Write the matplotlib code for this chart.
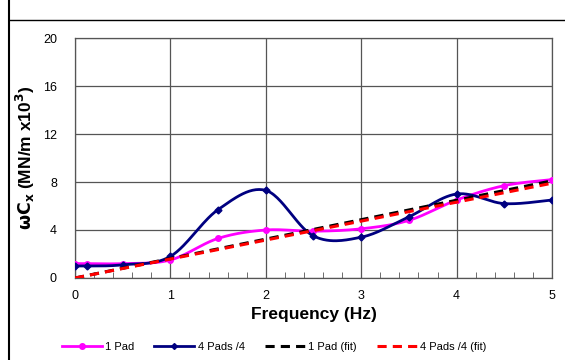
import numpy as np
import matplotlib.pyplot as plt
from matplotlib.lines import Line2D

plt.rcParams['font.family'] = ['Liberation Sans', 'DejaVu Sans']

freq = [0, 0.125, 0.5, 1.0, 1.5, 2.0, 2.5, 3.0, 3.5, 4.0, 4.5, 5.0]
one_pad = [1.2, 1.2, 1.2, 1.5, 3.3, 4.0, 3.9, 4.1, 4.8, 6.5, 7.7, 8.2]
four_pads = [1.0, 1.0, 1.1, 1.8, 5.7, 7.3, 3.5, 3.4, 5.1, 7.0, 6.2, 6.5]
fit_x = [0, 5]
fit_one = [0, 8.1]
fit_four = [0, 7.9]


def smooth(x, y, n=30):
    # excel-like smoothed line (catmull-rom via bezier)
    x = np.asarray(x, float)
    y = np.asarray(y, float)
    px = np.concatenate([[x[0]], x, [x[-1]]])
    py = np.concatenate([[y[0]], y, [y[-1]]])
    xs, ys = [], []
    t = np.linspace(0, 1, n)
    for i in range(1, len(px) - 2):
        p0 = np.array([px[i], py[i]])
        p3 = np.array([px[i + 1], py[i + 1]])
        p1 = p0 + (np.array([px[i + 1], py[i + 1]]) - np.array([px[i - 1], py[i - 1]])) / 6
        p2 = p3 - (np.array([px[i + 2], py[i + 2]]) - np.array([px[i], py[i]])) / 6
        b = ((1 - t) ** 3)[:, None] * p0 + (3 * (1 - t) ** 2 * t)[:, None] * p1 \
            + (3 * (1 - t) * t ** 2)[:, None] * p2 + (t ** 3)[:, None] * p3
        xs.extend(b[:, 0])
        ys.extend(b[:, 1])
    return xs, ys


fig = plt.figure(figsize=(5.65, 3.6), dpi=100)
ax = fig.add_axes([0.1327, 0.2278, 0.8443, 0.6666])

pink = '#ff00ff'
navy = '#000080'

sx, sy = smooth(freq, one_pad)
ax.plot(sx, sy, color=pink, lw=2, zorder=3)
ax.plot(freq, one_pad, 'o', color=pink, ms=4, zorder=4)
sx, sy = smooth(freq, four_pads)
ax.plot(sx, sy, color=navy, lw=2, zorder=5)
ax.plot(freq, four_pads, 'D', color=navy, ms=3.5, zorder=6)
ax.plot(fit_x, fit_one, color='black', lw=2.2, ls=(0, (3, 2)), zorder=7)
ax.plot(fit_x, fit_four, color='red', lw=2.2, ls=(0, (3, 2)), zorder=8)

ax.set_xlim(0, 5)
ax.set_ylim(0, 20)
ax.set_xticks(range(6))
ax.set_yticks(range(0, 21, 4))
ax.set_xticks(np.arange(0, 5.01, 0.2), minor=True)
ax.grid(True, color='#555555', lw=0.9)
ax.tick_params(which='major', length=0, labelsize=9)
ax.tick_params(axis='y', pad=13)
ax.tick_params(axis='x', pad=9)
ax.tick_params(which='minor', axis='x', direction='in', length=4, color='#555555')
for s in ax.spines.values():
    s.set_color('#555555')
    s.set_linewidth(0.9)

ax.set_xlabel('Frequency (Hz)', fontsize=12.5, fontweight='bold', labelpad=3)
ax.set_ylabel(r'$\mathbf{\omega C_x}$ (MN/m x10$^\mathbf{3}$)', fontsize=12.5,
              fontweight='bold', labelpad=4)

handles = [
    Line2D([], [], color=pink, lw=2, marker='o', ms=4),
    Line2D([], [], color=navy, lw=2, marker='D', ms=3),
    Line2D([], [], color='black', lw=2.2, ls=(0, (3, 2))),
    Line2D([], [], color='red', lw=2.2, ls=(0, (3, 2))),
]
labels = ['1 Pad', '4 Pads /4', '1 Pad (fit)', '4 Pads /4 (fit)']
fig.legend(handles, labels, loc='center', bbox_to_anchor=(0.485, 0.036), ncol=4,
           frameon=False, fontsize=8, handlelength=3.6, columnspacing=1.8,
           handletextpad=0.3)

# outer frame lines
fig.add_artist(Line2D([0.016, 0.016], [0, 1], color='black', lw=1.5))
fig.add_artist(Line2D([0.016, 1], [0.945, 0.945], color='black', lw=1))

fig.savefig('out.png', dpi=100)
